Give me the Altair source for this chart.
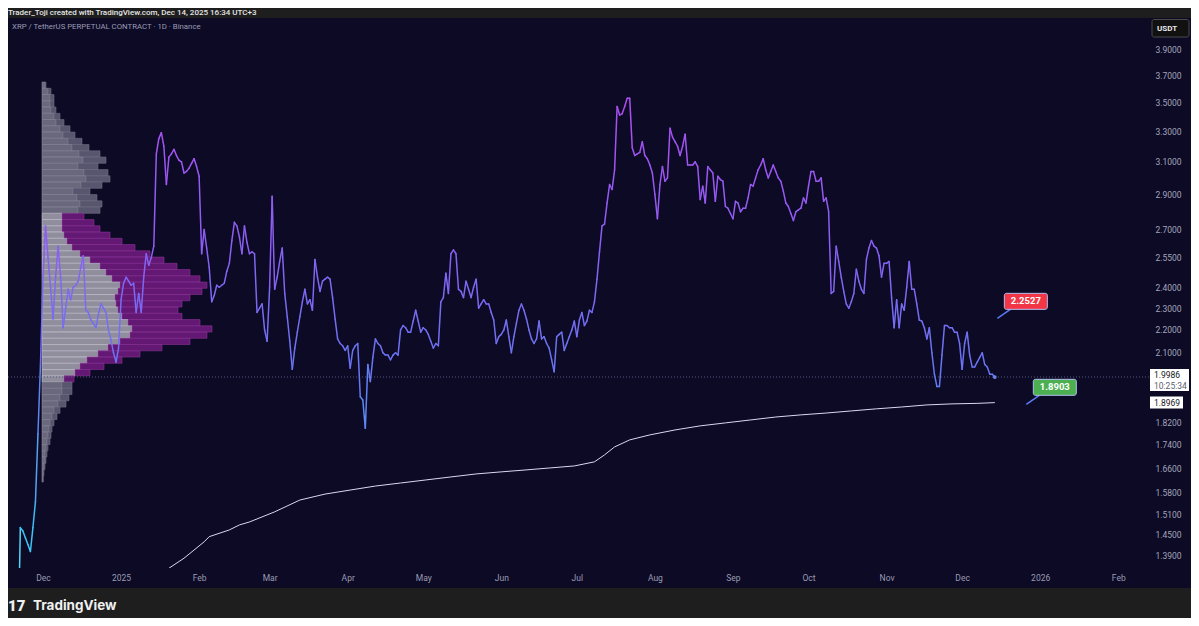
import altair as alt
import numpy as np
import pandas as pd

NAVY = "#0c0a24"
FRAME = "#1e1e1e"

# ---------------- daily closes XRP/USDT perpetual ----------------
nov_2024 = [1.12, 1.47, 1.46, 1.44, 1.42, 1.40, 1.47, 1.55, 1.78, 2.05]  # from Nov 21
dec_2024 = [2.45, 2.72, 2.55, 2.40, 2.25, 2.45, 2.61, 2.45, 2.21, 2.30,
            2.39, 2.34, 2.40, 2.41, 2.43, 2.50, 2.56, 2.29, 2.28, 2.245,
            2.23, 2.21, 2.27, 2.32, 2.30, 2.28, 2.20, 2.155, 2.10, 2.06, 2.12]
jan_2025 = [2.34, 2.42, 2.45, 2.43, 2.41, 2.42, 2.28, 2.37, 2.28, 2.45,
            2.57, 2.51, 2.55, 2.61, 3.15, 3.25, 3.29, 3.20, 2.96, 3.13,
            3.15, 3.18, 3.14, 3.11, 3.10, 3.03, 3.04, 3.06, 3.09, 3.12, 3.07]
feb_2025 = [3.01, 2.57, 2.70, 2.60, 2.50, 2.33, 2.36, 2.41, 2.40, 2.41,
            2.42, 2.48, 2.52, 2.64, 2.74, 2.72, 2.66, 2.57, 2.72, 2.63,
            2.57, 2.58, 2.57, 2.28, 2.30, 2.32, 2.20, 2.15]
mar_2025 = [2.40, 2.89, 2.39, 2.45, 2.53, 2.60, 2.37, 2.26, 2.15, 2.03,
            2.12, 2.19, 2.26, 2.33, 2.39, 2.32, 2.34, 2.29, 2.54, 2.45,
            2.38, 2.43, 2.44, 2.45, 2.44, 2.35, 2.25, 2.16, 2.14, 2.13, 2.11]
apr_2025 = [2.13, 2.035, 2.11, 2.13, 2.14, 1.92, 1.907, 1.80, 2.05, 1.98,
            2.08, 2.16, 2.14, 2.13, 2.10, 2.09, 2.09, 2.07, 2.09, 2.10,
            2.09, 2.20, 2.22, 2.21, 2.19, 2.19, 2.24, 2.29, 2.24, 2.19]
may_2025 = [2.21, 2.20, 2.18, 2.15, 2.12, 2.14, 2.13, 2.33, 2.35, 2.47,
            2.37, 2.57, 2.59, 2.57, 2.39, 2.38, 2.35, 2.43, 2.39, 2.35,
            2.40, 2.44, 2.30, 2.32, 2.34, 2.32, 2.32, 2.28, 2.245, 2.14, 2.17]
jun_2025 = [2.18, 2.20, 2.245, 2.17, 2.10, 2.17, 2.23, 2.29, 2.32, 2.29,
            2.25, 2.20, 2.16, 2.14, 2.16, 2.24, 2.16, 2.17, 2.14, 2.12,
            2.07, 2.02, 2.17, 2.18, 2.19, 2.11, 2.14, 2.17, 2.20, 2.24]
jul_2025 = [2.17, 2.245, 2.28, 2.22, 2.24, 2.29, 2.28, 2.33, 2.44, 2.58,
            2.72, 2.73, 2.85, 2.96, 2.93, 3.05, 3.47, 3.41, 3.42, 3.47,
            3.53, 3.53, 3.19, 3.14, 3.15, 3.16, 3.23, 3.14, 3.12, 3.08, 3.03]
aug_2025 = [2.90, 2.76, 2.96, 3.07, 2.98, 3.00, 3.32, 3.26, 3.23, 3.20,
            3.14, 3.20, 3.28, 3.08, 3.08, 3.08, 3.10, 3.07, 2.87, 2.95,
            2.85, 3.07, 3.05, 3.03, 2.86, 3.01, 2.99, 2.98, 2.83, 2.82, 2.79]
sep_2025 = [2.76, 2.86, 2.85, 2.80, 2.82, 2.82, 2.88, 2.96, 2.95, 3.00,
            3.05, 3.08, 3.12, 3.05, 3.00, 3.04, 3.08, 3.04, 3.00, 2.98,
            2.92, 2.85, 2.83, 2.79, 2.75, 2.80, 2.81, 2.82, 2.88, 2.85]
oct_2025 = [2.95, 3.04, 3.04, 2.98, 2.98, 3.00, 2.86, 2.88, 2.80, 2.37,
            2.38, 2.61, 2.53, 2.45, 2.38, 2.32, 2.30, 2.33, 2.37, 2.49,
            2.43, 2.39, 2.37, 2.54, 2.60, 2.64, 2.61, 2.60, 2.56, 2.45, 2.52]
nov_2025 = [2.52, 2.53, 2.35, 2.21, 2.34, 2.21, 2.32, 2.29, 2.40, 2.53,
            2.39, 2.39, 2.32, 2.245, 2.24, 2.21, 2.16, 2.21, 2.10, 2.01,
            1.96, 1.96, 2.09, 2.22, 2.22, 2.21, 2.21, 2.19, 2.19, 2.14]
dec_2025 = [2.03, 2.14, 2.19, 2.09, 2.04, 2.04, 2.06, 2.08, 2.10, 2.05,
            2.04, 2.01, 2.01, 1.9986]

month_starts = ["2024-11-21", "2024-12-01", "2025-01-01", "2025-02-01", "2025-03-01",
                "2025-04-01", "2025-05-01", "2025-06-01", "2025-07-01", "2025-08-01",
                "2025-09-01", "2025-10-01", "2025-11-01", "2025-12-01"]
month_closes = [nov_2024, dec_2024, jan_2025, feb_2025, mar_2025, apr_2025, may_2025,
                jun_2025, jul_2025, aug_2025, sep_2025, oct_2025, nov_2025, dec_2025]

# ---------------- white cumulative line ----------------
vwap_dates = ["2025-01-20", "2025-01-26", "2025-02-03", "2025-02-05", "2025-02-13", "2025-02-17",
              "2025-02-21", "2025-03-03", "2025-03-13", "2025-03-23", "2025-04-02", "2025-04-12",
              "2025-04-22", "2025-05-02", "2025-05-12", "2025-05-22", "2025-06-01", "2025-06-10",
              "2025-06-20", "2025-06-30", "2025-07-08", "2025-07-12", "2025-07-16", "2025-07-22",
              "2025-07-30", "2025-08-09", "2025-08-19", "2025-08-29", "2025-09-08", "2025-09-18",
              "2025-09-28", "2025-10-08", "2025-10-18", "2025-10-28", "2025-11-07", "2025-11-17",
              "2025-11-27", "2025-12-07", "2025-12-14"]
vwap_values = [1.353, 1.381, 1.428, 1.443, 1.463, 1.478, 1.487, 1.518, 1.555, 1.574, 1.587,
               1.600, 1.610, 1.620, 1.630, 1.640, 1.647, 1.653, 1.660, 1.667, 1.681, 1.705,
               1.733, 1.758, 1.776, 1.794, 1.809, 1.820, 1.831, 1.842, 1.850, 1.857, 1.865,
               1.873, 1.880, 1.888, 1.892, 1.894, 1.8969]

# ---------------- volume profile (rows top -> bottom) ----------------
profile_top = 3.648
profile_bottom = 1.613
profile_total = [4, 9, 12, 12, 14, 18, 22, 28, 33, 40, 47, 58, 64, 56, 66, 68, 60, 48, 55, 60,
                 58, 42, 52, 58, 68, 80, 93, 108, 122, 135, 148, 158, 165, 160, 148, 140, 136,
                 140, 158, 170, 165, 148, 120, 98, 80, 62, 48, 32, 30, 30, 27, 24, 18, 15, 12,
                 10, 9, 8, 6, 5, 4, 3, 2, 1]
profile_first = [3, 6, 8, 8, 9, 12, 14, 18, 21, 26, 30, 37, 41, 36, 42, 44, 39, 31, 35, 38,
                 36, 20, 20, 20, 22, 25, 30, 38, 48, 58, 64, 70, 78, 76, 73, 74, 76, 80, 86,
                 90, 88, 78, 66, 56, 45, 38, 33, 22, 20, 20, 18, 16, 12, 10, 8, 7, 6, 5, 4, 3,
                 3, 2, 1, 1]
value_area_low, value_area_high = 1.98, 2.79

# ---------------- axes / labels ----------------
y_ticks = [3.9, 3.7, 3.5, 3.3, 3.1, 2.9, 2.7, 2.55, 2.4, 2.3, 2.2, 2.1,
           1.82, 1.74, 1.66, 1.58, 1.51, 1.45, 1.39]
month_ticks = ["2024-12-01", "2025-01-01", "2025-02-01", "2025-03-01", "2025-04-01",
               "2025-05-01", "2025-06-01", "2025-07-01", "2025-08-01", "2025-09-01",
               "2025-10-01", "2025-11-01", "2025-12-01", "2026-01-01", "2026-02-01"]
last_price = 1.9986
countdown = "10:25:34"
vwap_last = 1.8969
note_dates = ["2025-12-15T00:00:00Z", "2025-12-26T12:00:00Z"]
note_prices = [2.2527, 1.8903]
note_labels = ["2.2527", "1.8903"]
note_fill = ["#f23645", "#4caf50"]

header = "Trader_Toji created with TradingView.com, Dec 14, 2025 16:34 UTC+3"
symbol = "XRP / TetherUS PERPETUAL CONTRACT · 1D · Binance"

# ---------------- build tables ----------------
dates, closes = [], []
for start, vals in zip(month_starts, month_closes):
    ds = pd.date_range(start, periods=len(vals), freq="D")
    dates += [d.strftime("%Y-%m-%d") for d in ds]
    closes += list(vals)
seg = pd.DataFrame({"d0": dates[:-1], "d1": dates[1:], "v0": closes[:-1], "v1": closes[1:]})
seg["vm"] = (seg["v0"] + seg["v1"]) / 2
last_df = pd.DataFrame({"date": [dates[-1]], "close": [closes[-1]]})
vwap_df = pd.DataFrame({"date": vwap_dates, "v": vwap_values})

edges = np.geomspace(profile_top, profile_bottom, len(profile_total) + 1)
rows = []
for k, (tot, first) in enumerate(zip(profile_total, profile_first)):
    hi, lo = edges[k], edges[k + 1]
    mid = float(np.sqrt(hi * lo))
    va = value_area_low <= mid <= value_area_high
    rows.append(dict(lo=lo, hi=hi, a=0, b=first, cat="va_a" if va else "out_a"))
    rows.append(dict(lo=lo, hi=hi, a=first, b=tot, cat="va_b" if va else "out_b"))
prof = pd.DataFrame(rows)

notes = pd.DataFrame({"d": note_dates, "p": note_prices, "t": note_labels, "f": note_fill})
one = pd.DataFrame({"z": [0]})


def ms(s):
    return int(pd.Timestamp(s).value // 10**6)


x_scale = alt.Scale(type="utc", domain=[ms("2024-11-17T02:24:00Z"), ms("2026-03-01T21:36:00Z")])
y_scale = alt.Scale(type="log", domain=[1.3537, 4.157], nice=False)

x_axis = alt.Axis(
    values=[ms(s + "T00:00:00Z") for s in month_ticks],
    labelExpr="utcFormat(datum.value, '%m') == '01' ? utcFormat(datum.value, '%Y') : utcFormat(datum.value, '%b')",
    offset=0, domain=False, ticks=False, tickSize=0, zindex=1,
    labelPadding=9, labelBaseline="middle", grid=False, labelColor="#9a9cb4",
    labelFont="Roboto", labelFontSize=8.5, labelOverlap=False, labelFlush=False, title=None)
y_axis = alt.Axis(
    orient="right", values=y_ticks, format=".4f", offset=-36, labelPadding=0,
    ticks=False, tickSize=0, domain=False, grid=False, labelColor="#a4a6bc",
    labelFont="Roboto", labelFontSize=8.5, labelOverlap=False, labelFlush=False,
    labelBound=False, title=None)


def X(f):
    return alt.X(f, type="temporal", scale=x_scale, axis=x_axis, title=None)


def Y(f):
    return alt.Y(f, type="quantitative", scale=y_scale, axis=y_axis, title=None)


# ---------------- layers ----------------
cats = ["out_a", "out_b", "va_a", "va_b"]
profile = alt.Chart(prof).mark_rect(strokeWidth=0.6, opacity=0.93).encode(
    x=alt.X("a:Q", scale=alt.Scale(domain=[0, 1000], range=[34, 1034], nice=False, zero=False), axis=None),
    x2="b",
    y=Y("hi"), y2="lo",
    color=alt.Color("cat:N", scale=alt.Scale(domain=cats,
                                             range=["#727084", "#5e5c74", "#9b99a6", "#6a1a79"]), legend=None),
    stroke=alt.Stroke("cat:N", scale=alt.Scale(domain=cats,
                                               range=["#908ea2", "#77758c", "#cfcdda", "#94389f"]), legend=None),
)

base = alt.Chart(one)
time_band = base.mark_rect(color=NAVY).encode(
    x=alt.value(0), x2=alt.value(1183), y=alt.value(550), y2=alt.value(570))

dotted = alt.Chart(pd.DataFrame({"p": [last_price]})).mark_rule(
    color="#55567c", strokeDash=[1, 2], strokeWidth=1).encode(
    y=Y("p"), x=alt.value(0), x2=alt.value(1142))

vwap = alt.Chart(vwap_df).mark_line(color="#dcd6f2", strokeWidth=1.0, clip=True).encode(
    x=X("date"), y=Y("v"))

price = alt.Chart(seg).mark_rule(strokeWidth=1.5, strokeCap="round", clip=True).encode(
    x=X("d0"), x2="d1", y=Y("v0"), y2="v1",
    color=alt.Color("vm:Q", scale=alt.Scale(domain=[1.35, 1.7, 2.05, 2.6, 3.5],
                                            range=["#46d0f5", "#5a9cf2", "#6a74f2", "#8a5ff2", "#b04cf2"]),
                    legend=None))

end_dot = alt.Chart(last_df).mark_circle(size=14, color="#7084f2", opacity=1).encode(
    x=X("date"), y=Y("close"))

pointer = alt.Chart(notes).mark_rule(x2Offset=13, y2Offset=-9, color="#5a78f0", strokeWidth=1.6).encode(
    x=X("d"), x2="d", y=Y("p"), y2="p")
note_box = alt.Chart(notes).mark_rect(xOffset=7, x2Offset=50, yOffset=-25, y2Offset=-9,
                                      stroke="#b4bef5", strokeWidth=1, cornerRadius=2).encode(
    x=X("d"), x2="d", y=Y("p"), y2="p", color=alt.Color("f:N", scale=None))
note_txt = alt.Chart(notes).mark_text(dx=28.5, dy=-17, color="white", fontWeight="bold",
                                      fontSize=9.5, font="Roboto").encode(
    x=X("d"), y=Y("p"), text="t:N")

pbox = alt.Chart(pd.DataFrame({"p": [last_price]})).mark_rect(
    yOffset=-8, y2Offset=14, color="#ffffff").encode(
    x=alt.value(1142), x2=alt.value(1181), y=Y("p"), y2="p")
ptxt = alt.Chart(pd.DataFrame({"p": [last_price], "t": [f"{last_price:.4f}"]})).mark_text(
    align="left", dy=-2.5, color="#131722", fontSize=8.5, font="Roboto").encode(
    x=alt.value(1146), y=Y("p"), text="t:N")
ctxt = alt.Chart(pd.DataFrame({"p": [last_price], "t": [countdown]})).mark_text(
    align="left", dy=8.5, color="#5d606b", fontSize=8.5, font="Roboto").encode(
    x=alt.value(1146), y=Y("p"), text="t:N")
vbox = alt.Chart(pd.DataFrame({"p": [vwap_last]})).mark_rect(
    yOffset=-6, y2Offset=6, color="#ffffff").encode(
    x=alt.value(1142), x2=alt.value(1175), y=Y("p"), y2="p")
vtxt = alt.Chart(pd.DataFrame({"p": [vwap_last], "t": [f"{vwap_last:.4f}"]})).mark_text(
    align="left", color="#131722", fontSize=8.5, font="Roboto").encode(
    x=alt.value(1146), y=Y("p"), text="t:N")

usdt_box = base.mark_rect(color="#111111", stroke="#4a4a4a", strokeWidth=1, cornerRadius=2).encode(
    x=alt.value(1144), x2=alt.value(1181), y=alt.value(1.5), y2=alt.value(19))
usdt_txt = base.mark_text(text="USDT", color="#e8e8e8", fontSize=8, fontWeight="bold",
                          font="Roboto", align="left").encode(x=alt.value(1149), y=alt.value(10.5))
head_txt = base.mark_text(text=header, color="#e6e6e6", fontSize=8.0, fontWeight=500,
                          font="Roboto", align="left", baseline="middle").encode(
    x=alt.value(0), y=alt.value(-5))
sym_txt = base.mark_text(text=symbol, color="#9c9cb6", fontSize=7.8, font="Roboto",
                         align="left", baseline="middle").encode(x=alt.value(4), y=alt.value(9))
logo_icon = base.mark_text(text="17", color="#f0f0f0", fontSize=15, fontWeight=900,
                           font="Roboto", align="left", baseline="middle").encode(
    x=alt.value(0), y=alt.value(588))
logo_txt = base.mark_text(text="TradingView", color="#f0f0f0", fontSize=13.5, fontWeight="bold",
                          font="Inter", align="left", baseline="middle").encode(
    x=alt.value(25), y=alt.value(588))

time_group = alt.layer(
    time_band, dotted, vwap, price, end_dot, pointer, note_box, note_txt,
    pbox, ptxt, ctxt, vbox, vtxt, usdt_box, usdt_txt, head_txt, sym_txt, logo_icon, logo_txt)

chart = alt.layer(profile, time_group).resolve_scale(x="independent").properties(
    width=1183, height=550,
    padding={"left": 0, "top": 10, "right": 0, "bottom": 50},
    autosize=alt.AutoSizeParams(type="none"),
    background=FRAME,
).configure_view(fill=NAVY, stroke=None)

chart.save("out.html", embed_options={"renderer": "svg", "actions": False})
